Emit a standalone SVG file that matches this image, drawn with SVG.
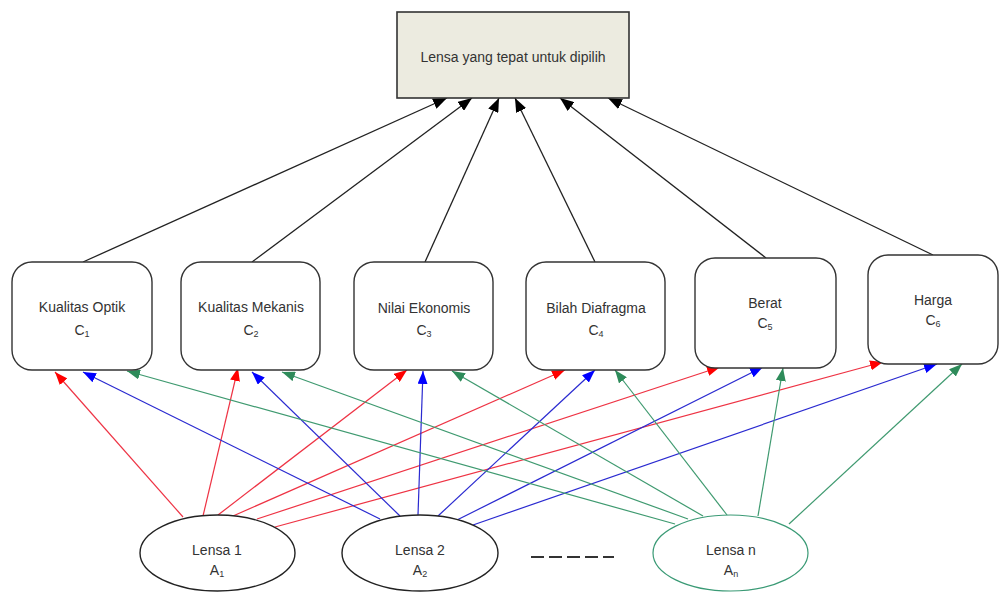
<svg xmlns="http://www.w3.org/2000/svg" width="1000" height="596" viewBox="0 0 1000 596">
<style>
text{font-family:"Liberation Sans",Arial,sans-serif;font-size:14px;fill:#333;text-anchor:middle}
.sub{font-size:9px}
.box{fill:#fff;stroke:#333;stroke-width:1.4}
.ell{fill:#fff;stroke:#222;stroke-width:1.4}
.blk{stroke:#222;stroke-width:1.3;fill:none;marker-end:url(#mb)}
.red{stroke:#ee3344;stroke-width:1.2;fill:none;marker-end:url(#mr)}
.blu{stroke:#2a2ad0;stroke-width:1.2;fill:none;marker-end:url(#mu)}
.grn{stroke:#3f9a70;stroke-width:1.2;fill:none;marker-end:url(#mg)}
</style>
<defs>
<marker id="mb" markerUnits="userSpaceOnUse" markerWidth="14" markerHeight="11" refX="14" refY="5.5" orient="auto"><path d="M0,0 L14,5.5 L0,11 z" fill="#000"/></marker>
<marker id="mr" markerUnits="userSpaceOnUse" markerWidth="13" markerHeight="10" refX="13" refY="5" orient="auto"><path d="M0,0 L13,5 L0,10 z" fill="#ff0000"/></marker>
<marker id="mu" markerUnits="userSpaceOnUse" markerWidth="13" markerHeight="10" refX="13" refY="5" orient="auto"><path d="M0,0 L13,5 L0,10 z" fill="#0000ff"/></marker>
<marker id="mg" markerUnits="userSpaceOnUse" markerWidth="13" markerHeight="10" refX="13" refY="5" orient="auto"><path d="M0,0 L13,5 L0,10 z" fill="#2e8b5a"/></marker>
</defs>
<rect width="1000" height="596" fill="#fff"/>
<g id="connectors">
<line class="blk" x1="83" y1="262" x2="447" y2="98"/>
<line class="blk" x1="252" y1="262" x2="472" y2="98"/>
<line class="blk" x1="425" y1="262" x2="499" y2="98"/>
<line class="blk" x1="595" y1="262" x2="515" y2="98"/>
<line class="blk" x1="766" y1="258" x2="560" y2="98"/>
<line class="blk" x1="933" y1="255" x2="608" y2="98"/>
<line class="red" x1="183" y1="517" x2="55" y2="372"/>
<line class="red" x1="203" y1="516" x2="238" y2="368"/>
<line class="red" x1="218" y1="515" x2="407" y2="370"/>
<line class="red" x1="233" y1="516" x2="565" y2="370"/>
<line class="red" x1="257" y1="519" x2="720" y2="367"/>
<line class="red" x1="275" y1="527" x2="883" y2="362"/>
<line class="blu" x1="380" y1="519" x2="83" y2="372"/>
<line class="blu" x1="400" y1="516" x2="252" y2="372"/>
<line class="blu" x1="418" y1="515" x2="423" y2="371"/>
<line class="blu" x1="438" y1="516" x2="595" y2="370"/>
<line class="blu" x1="457" y1="520" x2="763" y2="367"/>
<line class="blu" x1="473" y1="525" x2="937" y2="364"/>
<line class="grn" x1="675" y1="524" x2="127" y2="371"/>
<line class="grn" x1="688" y1="519" x2="282" y2="372"/>
<line class="grn" x1="703" y1="516" x2="452" y2="371"/>
<line class="grn" x1="727" y1="515" x2="615" y2="370"/>
<line class="grn" x1="758" y1="516" x2="783" y2="368"/>
<line class="grn" x1="789" y1="524" x2="962" y2="364"/>
</g>
<g id="goal">
<rect x="397" y="12" width="232" height="86" fill="#ecebe0" stroke="#333" stroke-width="1.6"/>
<text x="513" y="62">Lensa yang tepat untuk dipilih</text>
</g>
<g id="c1">
<rect class="box" x="12" y="262" width="140" height="108" rx="20"/>
<text x="82" y="312">Kualitas Optik</text>
<text x="82" y="335">C<tspan class="sub" dy="2">1</tspan></text>
</g>
<g id="c2">
<rect class="box" x="181" y="262" width="139" height="108" rx="20"/>
<text x="251" y="312">Kualitas Mekanis</text>
<text x="251" y="335">C<tspan class="sub" dy="2">2</tspan></text>
</g>
<g id="c3">
<rect class="box" x="354" y="262" width="139" height="108" rx="20"/>
<text x="424" y="313">Nilai Ekonomis</text>
<text x="424" y="335">C<tspan class="sub" dy="2">3</tspan></text>
</g>
<g id="c4">
<rect class="box" x="526" y="262" width="139" height="108" rx="20"/>
<text x="596" y="313">Bilah Diafragma</text>
<text x="596" y="335">C<tspan class="sub" dy="2">4</tspan></text>
</g>
<g id="c5">
<rect class="box" x="695" y="258" width="141" height="110" rx="20"/>
<text x="765" y="308">Berat</text>
<text x="765" y="328">C<tspan class="sub" dy="2">5</tspan></text>
</g>
<g id="c6">
<rect class="box" x="868" y="255" width="130" height="109" rx="20"/>
<text x="933" y="305">Harga</text>
<text x="933" y="325">C<tspan class="sub" dy="2">6</tspan></text>
</g>
<g id="a1">
<ellipse class="ell" cx="217.5" cy="553" rx="77.5" ry="38"/>
<text x="217" y="555">Lensa 1</text>
<text x="217" y="575">A<tspan class="sub" dy="2">1</tspan></text>
</g>
<g id="a2">
<ellipse class="ell" cx="420" cy="553" rx="78" ry="38"/>
<text x="420" y="555">Lensa 2</text>
<text x="420" y="575">A<tspan class="sub" dy="2">2</tspan></text>
</g>
<g id="dots">
<line x1="531" y1="557" x2="614" y2="557" stroke="#333" stroke-width="1.8" stroke-dasharray="13 5"/>
</g>
<g id="an">
<ellipse cx="730.5" cy="553" rx="77.5" ry="38" fill="#fff" stroke="#3a9a75" stroke-width="1.2"/>
<text x="731" y="555">Lensa n</text>
<text x="731" y="575">A<tspan class="sub" dy="2">n</tspan></text>
</g>
</svg>
